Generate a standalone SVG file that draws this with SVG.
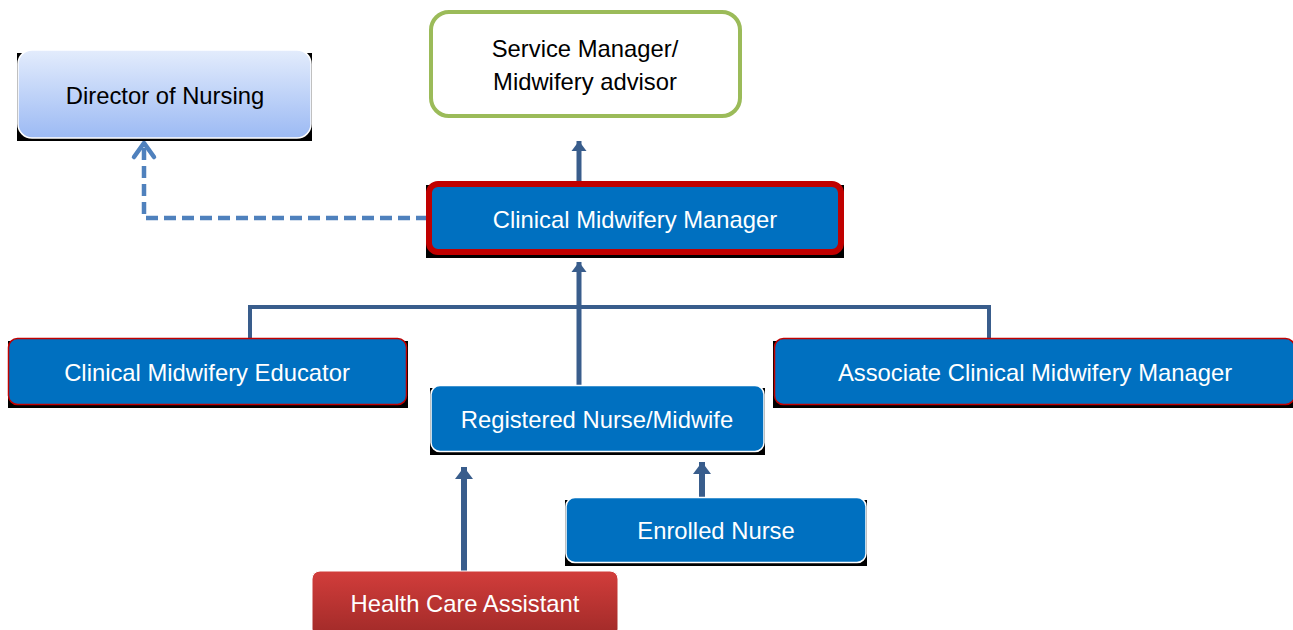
<svg xmlns="http://www.w3.org/2000/svg" width="1293" height="630" viewBox="0 0 1293 630">
<defs>
<linearGradient id="gDir" x1="0" y1="0" x2="0" y2="1">
<stop offset="0" stop-color="#e3ecfc"/>
<stop offset="1" stop-color="#9cbaf4"/>
</linearGradient>
<linearGradient id="gHca" x1="0" y1="0" x2="0" y2="1">
<stop offset="0" stop-color="#d23d3b"/>
<stop offset="1" stop-color="#a02a28"/>
</linearGradient>
<marker id="tip" markerWidth="4" markerHeight="4" refX="2" refY="2" orient="auto" markerUnits="strokeWidth">
<path d="M0,0.5 L2,2 L0,3.5 Z" fill="#395d8c"/>
</marker>
</defs>
<style>
text{font-family:"Liberation Sans",Arial,sans-serif;font-size:23.8px;text-anchor:middle}
.w{fill:#ffffff}
.k{fill:#000000}
.shadow{fill:#000000}
.conn{stroke:#395d8c;fill:none;stroke-linecap:butt}
</style>
<rect width="1293" height="630" fill="#ffffff"/>

<g id="connectors">
<path class="conn" d="M250,338 V307 H989 V338" stroke-width="4"/>
<line class="conn" x1="579" y1="183" x2="579" y2="141" stroke-width="5" marker-end="url(#tip)"/>
<line class="conn" x1="579" y1="385" x2="579" y2="262" stroke-width="5" marker-end="url(#tip)"/>
<line class="conn" x1="464" y1="571" x2="464" y2="467" stroke-width="6" marker-end="url(#tip)"/>
<line class="conn" x1="702" y1="497" x2="702" y2="462" stroke-width="6" marker-end="url(#tip)"/>
<path d="M428,218 H144 V145" fill="none" stroke="#4f81bd" stroke-width="4.5" stroke-dasharray="12,6"/>
<path d="M134,157 L144,143 L154,157" fill="none" stroke="#4f81bd" stroke-width="4.5" stroke-linecap="round" stroke-linejoin="round"/>
</g>

<g id="director">
<rect class="shadow" x="17" y="53" width="295" height="88"/>
<rect x="18" y="50" width="293" height="88" rx="14" fill="url(#gDir)" stroke="#ffffff" stroke-width="1.5"/>
<text class="k" x="165" y="104">Director of Nursing</text>
</g>

<g id="service-manager">
<rect x="431" y="12" width="309" height="104" rx="18" fill="#ffffff" stroke="#9bbb59" stroke-width="4"/>
<text class="k" x="585" y="57">Service Manager/</text>
<text class="k" x="585" y="90">Midwifery advisor</text>
</g>

<g id="clinical-midwifery-manager">
<rect class="shadow" x="426" y="185" width="418" height="73"/>
<rect x="429" y="184" width="412" height="68" rx="9" fill="#0070c0" stroke="#c00000" stroke-width="6"/>
<text class="w" x="635" y="228">Clinical Midwifery Manager</text>
</g>

<g id="clinical-midwifery-educator">
<rect class="shadow" x="8" y="341" width="400" height="67"/>
<rect x="8.5" y="338.5" width="398" height="66" rx="9" fill="#0070c0" stroke="#c00000" stroke-width="1.5"/>
<text class="w" x="207" y="381">Clinical Midwifery Educator</text>
</g>

<g id="associate-clinical-midwifery-manager">
<rect class="shadow" x="773" y="341" width="520" height="67"/>
<rect x="774.5" y="338.5" width="520" height="66" rx="9" fill="#0070c0" stroke="#c00000" stroke-width="1.5"/>
<text class="w" x="1035" y="381">Associate Clinical Midwifery Manager</text>
</g>

<g id="registered-nurse">
<rect class="shadow" x="430" y="388" width="335" height="67"/>
<rect x="431" y="385.5" width="333" height="66" rx="9" fill="#0070c0" stroke="#ffffff" stroke-width="1.5"/>
<text class="w" x="597" y="428">Registered Nurse/Midwife</text>
</g>

<g id="enrolled-nurse">
<rect class="shadow" x="565" y="500" width="302" height="66"/>
<rect x="566" y="497.5" width="300" height="65" rx="9" fill="#0070c0" stroke="#ffffff" stroke-width="1.5"/>
<text class="w" x="716" y="539">Enrolled Nurse</text>
</g>

<g id="health-care-assistant">
<rect x="312" y="571" width="306" height="66" rx="8" fill="url(#gHca)" stroke="#ffffff" stroke-width="1"/>
<text class="w" x="465" y="612">Health Care Assistant</text>
</g>
</svg>
